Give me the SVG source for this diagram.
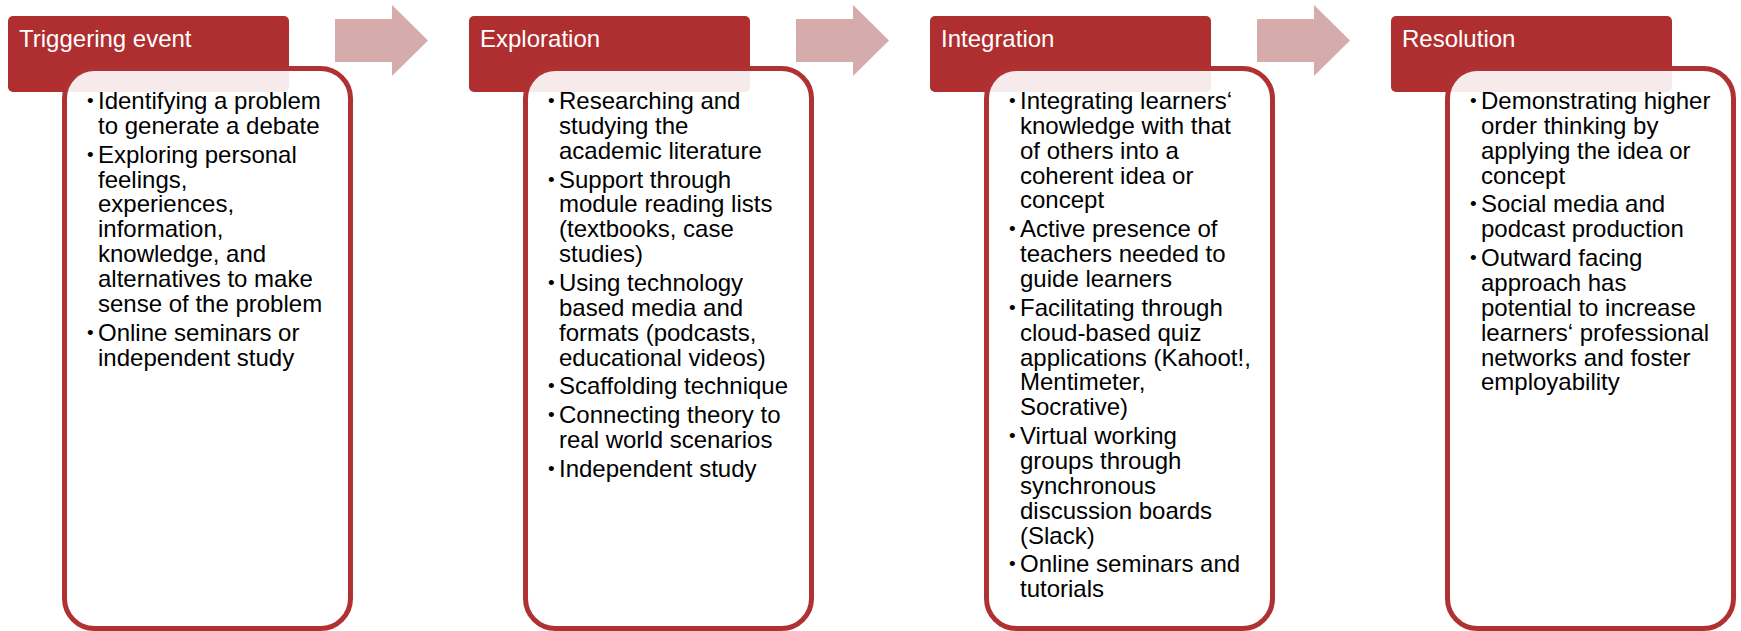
<svg xmlns="http://www.w3.org/2000/svg" width="1741" height="631" viewBox="0 0 1741 631">
  <style>
    .hdr { fill: #AF2E2F; }
    .hdr-text { font-family: "Liberation Sans", Arial, sans-serif; font-size: 24px; fill: #FFFFFF; }
    .body { fill: #FFFFFF; fill-opacity: 0.9; stroke: #B03132; stroke-width: 5; }
    .item { font-family: "Liberation Sans", Arial, sans-serif; font-size: 24px; fill: #000000; }
    .item .b { font-size: 19px; }
    .arrow { fill: #D5ABAB; }
  </style>
  <defs>
    <!-- block arrow between stages -->
    <path id="stepArrow" d="M335,19 H392 V5 L428,40.5 L392,76 V62 H335 Z"/>
  </defs>

  <g id="connectors">
    <use href="#stepArrow" class="arrow"/>
    <use href="#stepArrow" class="arrow" transform="translate(461,0)"/>
    <use href="#stepArrow" class="arrow" transform="translate(922,0)"/>
  </g>

  <!-- Stage 1 -->
  <g id="triggering-event">
    <rect class="hdr" x="8" y="16" width="281" height="76" rx="5"/>
    <text class="hdr-text" x="19" y="47">Triggering event</text>
    <rect class="body" x="64.5" y="68.5" width="286" height="560" rx="30"/>
    <g class="item">
      <text class="b" x="87" y="107">•</text>
      <text x="98" y="109">Identifying a problem</text>
      <text x="98" y="133.9">to generate a debate</text>
      <text class="b" x="87" y="160.7">•</text>
      <text x="98" y="162.7">Exploring personal</text>
      <text x="98" y="187.6">feelings,</text>
      <text x="98" y="212.4">experiences,</text>
      <text x="98" y="237.3">information,</text>
      <text x="98" y="262.1">knowledge, and</text>
      <text x="98" y="287">alternatives to make</text>
      <text x="98" y="311.8">sense of the problem</text>
      <text class="b" x="87" y="338.7">•</text>
      <text x="98" y="340.7">Online seminars or</text>
      <text x="98" y="365.5">independent study</text>
    </g>
  </g>

  <!-- Stage 2 -->
  <g id="exploration">
    <rect class="hdr" x="469" y="16" width="281" height="76" rx="5"/>
    <text class="hdr-text" x="480" y="47">Exploration</text>
    <rect class="body" x="525.5" y="68.5" width="286" height="560" rx="30"/>
    <g class="item">
      <text class="b" x="548" y="107">•</text>
      <text x="559" y="109">Researching and</text>
      <text x="559" y="133.9">studying the</text>
      <text x="559" y="158.7">academic literature</text>
      <text class="b" x="548" y="185.6">•</text>
      <text x="559" y="187.6">Support through</text>
      <text x="559" y="212.4">module reading lists</text>
      <text x="559" y="237.3">(textbooks, case</text>
      <text x="559" y="262.1">studies)</text>
      <text class="b" x="548" y="289">•</text>
      <text x="559" y="291">Using technology</text>
      <text x="559" y="315.8">based media and</text>
      <text x="559" y="340.7">formats (podcasts,</text>
      <text x="559" y="365.5">educational videos)</text>
      <text class="b" x="548" y="392.4">•</text>
      <text x="559" y="394.4">Scaffolding technique</text>
      <text class="b" x="548" y="421.2">•</text>
      <text x="559" y="423.2">Connecting theory to</text>
      <text x="559" y="448.1">real world scenarios</text>
      <text class="b" x="548" y="474.9">•</text>
      <text x="559" y="476.9">Independent study</text>
    </g>
  </g>

  <!-- Stage 3 -->
  <g id="integration">
    <rect class="hdr" x="930" y="16" width="281" height="76" rx="5"/>
    <text class="hdr-text" x="941" y="47">Integration</text>
    <rect class="body" x="986.5" y="68.5" width="286" height="560" rx="30"/>
    <g class="item">
      <text class="b" x="1009" y="107">•</text>
      <text x="1020" y="109">Integrating learners‘</text>
      <text x="1020" y="133.9">knowledge with that</text>
      <text x="1020" y="158.7">of others into a</text>
      <text x="1020" y="183.6">coherent idea or</text>
      <text x="1020" y="208.4">concept</text>
      <text class="b" x="1009" y="235.3">•</text>
      <text x="1020" y="237.3">Active presence of</text>
      <text x="1020" y="262.1">teachers needed to</text>
      <text x="1020" y="287">guide learners</text>
      <text class="b" x="1009" y="313.8">•</text>
      <text x="1020" y="315.8">Facilitating through</text>
      <text x="1020" y="340.7">cloud-based quiz</text>
      <text x="1020" y="365.5">applications (Kahoot!,</text>
      <text x="1020" y="390.4">Mentimeter,</text>
      <text x="1020" y="415.2">Socrative)</text>
      <text class="b" x="1009" y="442.1">•</text>
      <text x="1020" y="444.1">Virtual working</text>
      <text x="1020" y="468.9">groups through</text>
      <text x="1020" y="493.8">synchronous</text>
      <text x="1020" y="518.6">discussion boards</text>
      <text x="1020" y="543.5">(Slack)</text>
      <text class="b" x="1009" y="570.3">•</text>
      <text x="1020" y="572.3">Online seminars and</text>
      <text x="1020" y="597.2">tutorials</text>
    </g>
  </g>

  <!-- Stage 4 -->
  <g id="resolution">
    <rect class="hdr" x="1391" y="16" width="281" height="76" rx="5"/>
    <text class="hdr-text" x="1402" y="47">Resolution</text>
    <rect class="body" x="1447.5" y="68.5" width="286" height="560" rx="30"/>
    <g class="item">
      <text class="b" x="1470" y="107">•</text>
      <text x="1481" y="109">Demonstrating higher</text>
      <text x="1481" y="133.9">order thinking by</text>
      <text x="1481" y="158.7">applying the idea or</text>
      <text x="1481" y="183.6">concept</text>
      <text class="b" x="1470" y="210.4">•</text>
      <text x="1481" y="212.4">Social media and</text>
      <text x="1481" y="237.3">podcast production</text>
      <text class="b" x="1470" y="264.1">•</text>
      <text x="1481" y="266.1">Outward facing</text>
      <text x="1481" y="291">approach has</text>
      <text x="1481" y="315.8">potential to increase</text>
      <text x="1481" y="340.7">learners‘ professional</text>
      <text x="1481" y="365.5">networks and foster</text>
      <text x="1481" y="390.4">employability</text>
    </g>
  </g>
</svg>
